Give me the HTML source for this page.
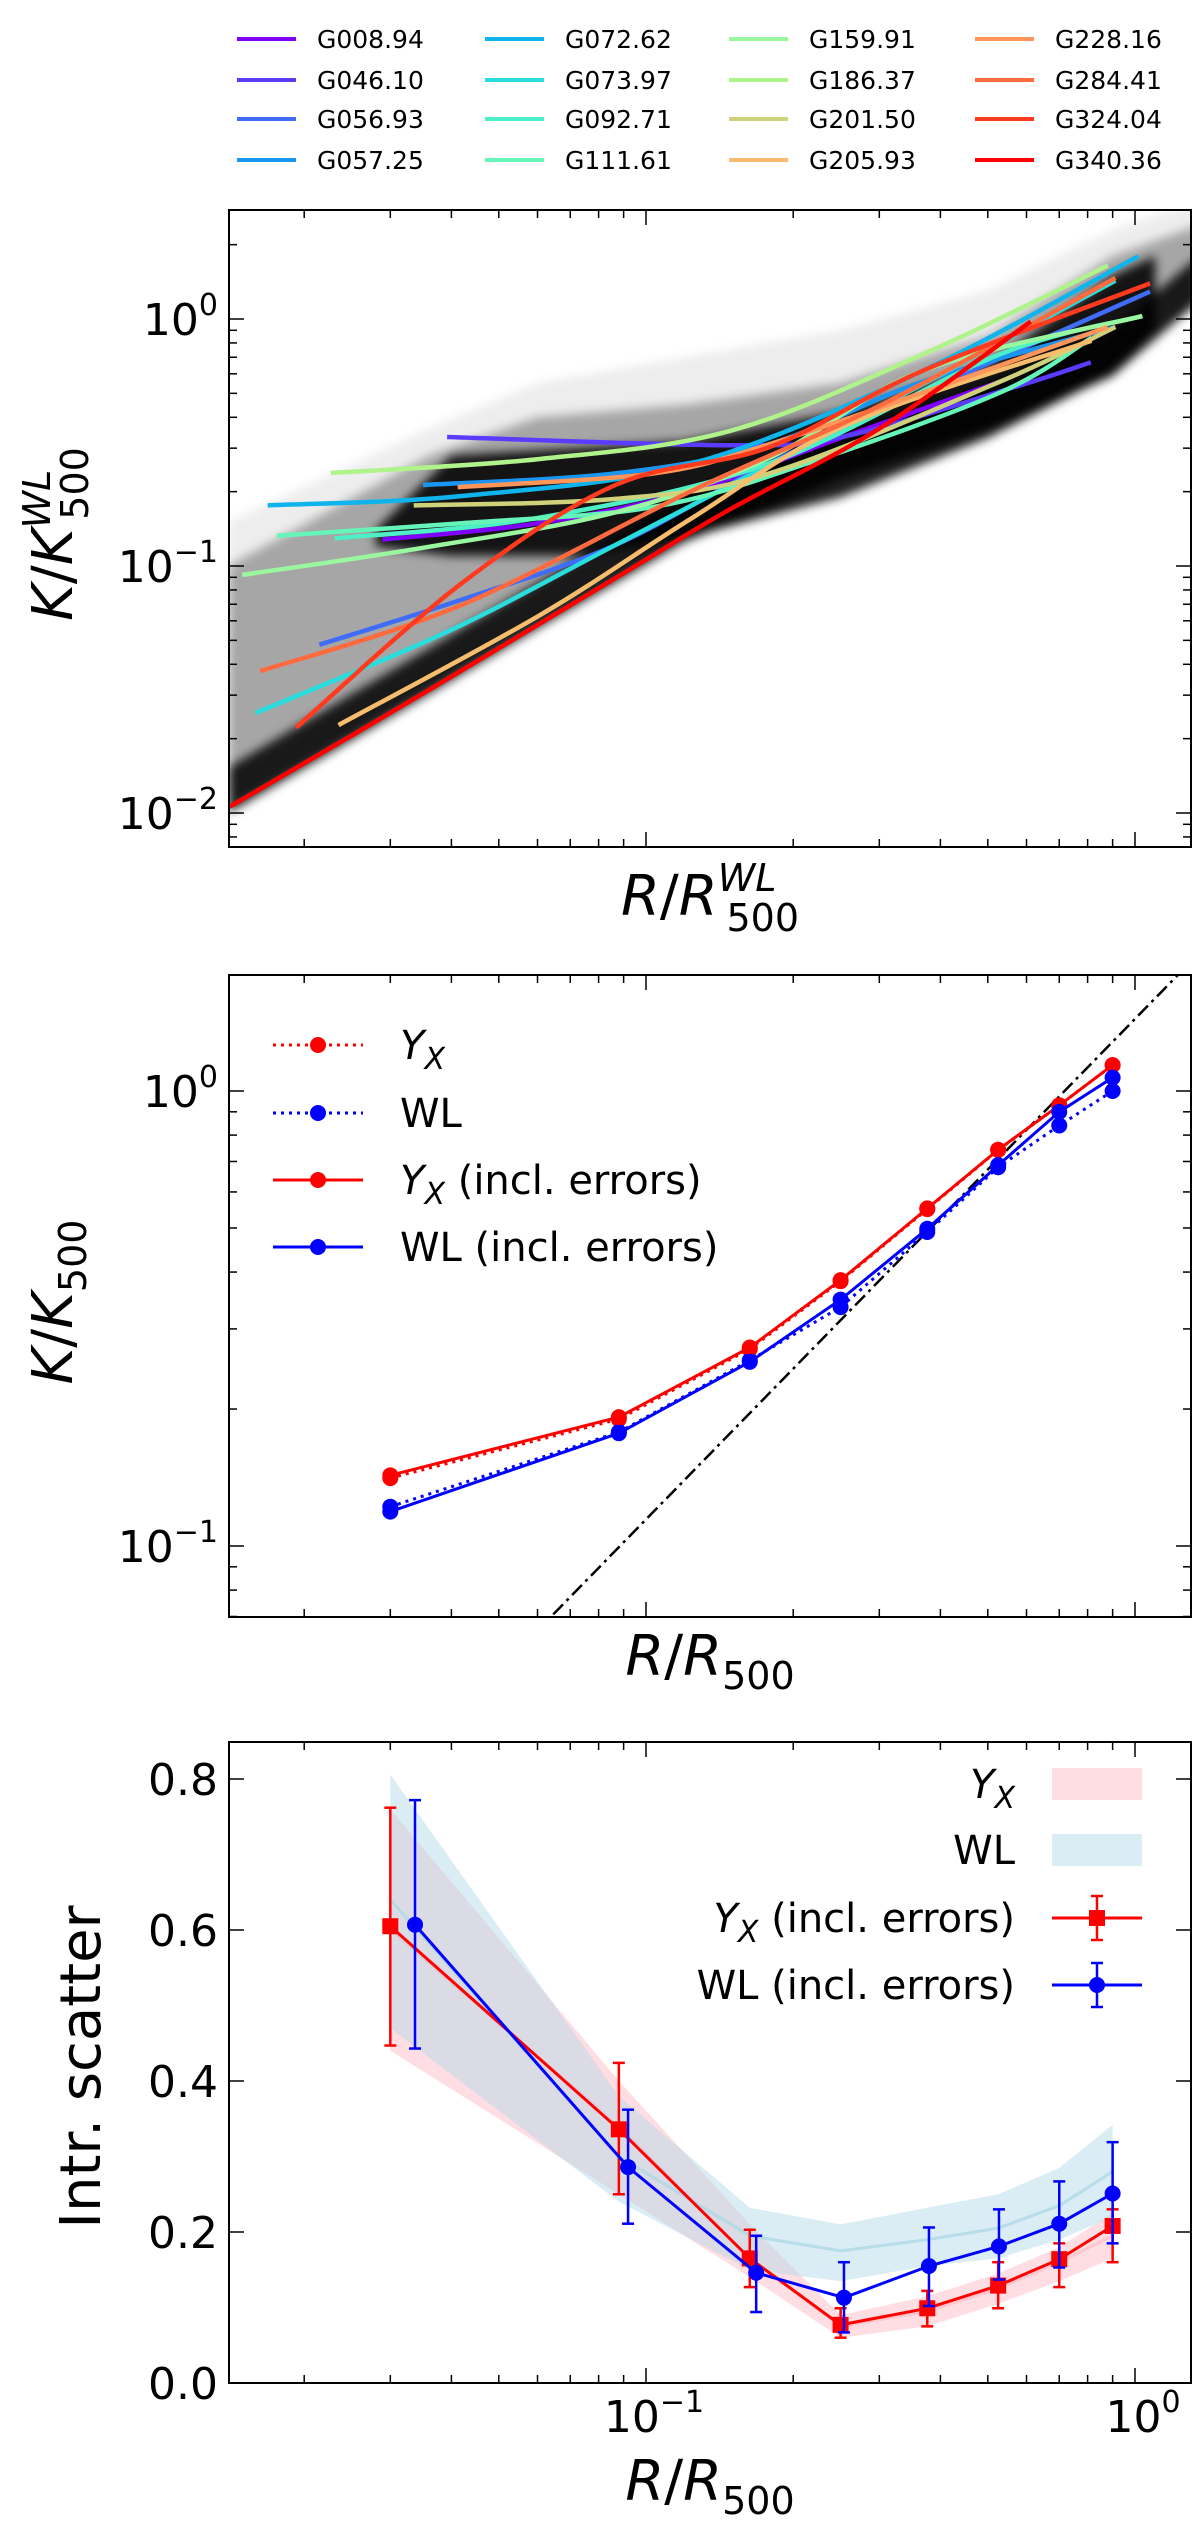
<!DOCTYPE html>
<html><head><meta charset="utf-8"><style>
html,body{margin:0;padding:0;background:#fff}
svg{display:block;font-family:"DejaVu Sans","Liberation Sans",sans-serif}
</style></head><body>
<svg id="fig" width="1200" height="2529" viewBox="0 0 1200 2529" xmlns="http://www.w3.org/2000/svg">
<defs>
<clipPath id="cTop"><rect x="229" y="210" width="962" height="637"/></clipPath>
<clipPath id="cMid"><rect x="229" y="975" width="962" height="642"/></clipPath>
<clipPath id="cBot"><rect x="229" y="1742" width="962" height="641"/></clipPath>
<filter id="blur"><feGaussianBlur stdDeviation="5"/></filter>
</defs>
<g id="top"></g>
<g id="mid"></g>
<g id="bot"></g>
</svg>
<script>
// ---------- TOP PANEL DATA ----------
const clusterNames = ["G008.94","G046.10","G056.93","G057.25","G072.62","G073.97","G092.71","G111.61","G159.91","G186.37","G201.50","G205.93","G228.16","G284.41","G324.04","G340.36"];
const clusterColors = ["#8000ff","#5a3cff","#3f6cf8","#1a96f2","#10b4ec","#2adddd","#4df0c6","#66f5b8","#9af7a0","#b0f38a","#cfd27a","#f8bd6c","#ff9558","#ff6a3f","#ff3a1f","#ff0000"];
const clusterR = [
 [0.0289,0.0603,0.1244,0.2566,0.53],
 [0.0392,0.1527,0.2566,0.569,0.812],
 [0.02148,0.042,0.0866,0.1787,0.3687,1.073],
 [0.035,0.0866,0.1787,0.3687,0.912],
 [0.01684,0.042,0.1244,0.3687,1.016],
 [0.0159,0.039,0.0866,0.2566,0.912],
 [0.02308,0.0603,0.1787,0.53,1.035],
 [0.01759,0.042,0.1038,0.2141,0.53,0.815],
 [0.01494,0.035,0.0866,0.1787,0.3687,1.035],
 [0.02267,0.0603,0.149,0.3687,0.88],
 [0.0335,0.0866,0.1787,0.53,0.912],
 [0.0235,0.0603,0.1244,0.2566,0.815],
 [0.0412,0.1038,0.1787,0.3687,0.88],
 [0.01625,0.042,0.1244,0.3076,0.912],
 [0.01926,0.042,0.0866,0.1787,0.3687,1.073],
 [0.01408,0.036,0.0923,0.148,0.3,0.612]
];
const clusterK = [
 [0.128,0.149,0.2021,0.336,0.558],
 [0.333,0.308,0.336,0.531,0.667],
 [0.048,0.0731,0.1216,0.2605,0.504,1.291],
 [0.2127,0.237,0.311,0.558,0.928],
 [0.176,0.192,0.2605,0.618,1.796],
 [0.0254,0.0539,0.1216,0.372,1.429],
 [0.1294,0.1567,0.2605,0.72,1.027],
 [0.1326,0.149,0.1735,0.2605,0.504,0.839],
 [0.092,0.1185,0.165,0.274,0.618,1.027],
 [0.238,0.271,0.353,0.72,1.647],
 [0.176,0.187,0.237,0.558,0.928],
 [0.0227,0.0628,0.1567,0.372,0.817],
 [0.2086,0.237,0.311,0.504,0.928],
 [0.0375,0.0696,0.2021,0.456,1.466],
 [0.0222,0.0852,0.2127,0.303,0.618,1.393],
 [0.0106,0.0315,0.0964,0.169,0.36,0.976]
];
// gray realisation envelopes
const bandR = [0.014,0.036,0.06,0.12,0.25,0.5,0.9,1.35];
const bandLow = [0.0102,0.031,0.057,0.128,0.23,0.36,0.6,1.2];
const bandFaintUp = [0.15,0.36,0.55,0.7,0.9,1.3,2.3,3.0];
const bandMidUp = [0.1,0.28,0.4,0.45,0.55,0.85,1.8,2.4];
const coreR = [0.028,0.04,0.07,0.12,0.25,0.5,0.9,1.1];
const coreLow = [0.12,0.11,0.11,0.13,0.19,0.33,0.6,0.9];
const coreUp = [0.14,0.28,0.3,0.32,0.42,0.65,1.5,1.8];
// ---------- MIDDLE PANEL DATA ----------
const profR = [0.030,0.088,0.163,0.25,0.376,0.525,0.70,0.90];
const kYx = [0.141,0.190,0.271,0.382,0.550,0.742,0.930,1.14];
const kWL = [0.122,0.178,0.256,0.335,0.490,0.680,0.840,1.00];
const kYxErr = [0.143,0.192,0.273,0.384,0.552,0.743,0.93,1.14];
const kWLErr = [0.119,0.177,0.254,0.348,0.498,0.687,0.90,1.07];
const refNorm = 1.44, refSlope = 1.1;
// ---------- BOTTOM PANEL DATA ----------
const scatR_Yx = [0.030,0.088,0.163,0.25,0.376,0.525,0.70,0.90];
const scatR_WL = [0.0337,0.0919,0.168,0.254,0.379,0.527,0.70,0.90];
const scatYx = [0.605,0.336,0.165,0.077,0.099,0.129,0.164,0.208];
const scatYxHi = [0.762,0.424,0.203,0.099,0.122,0.160,0.185,0.230];
const scatYxLo = [0.447,0.250,0.127,0.060,0.075,0.099,0.127,0.160];
const scatWL = [0.607,0.286,0.146,0.113,0.155,0.181,0.211,0.251];
const scatWLHi = [0.772,0.362,0.195,0.160,0.206,0.230,0.267,0.319];
const scatWLLo = [0.443,0.211,0.094,0.067,0.102,0.137,0.153,0.185];
const bandYxMid = [0.60,0.34,0.165,0.075,0.095,0.125,0.16,0.195];
const bandYxUp = [0.76,0.40,0.21,0.09,0.115,0.145,0.18,0.225];
const bandYxLo = [0.44,0.25,0.14,0.06,0.075,0.105,0.135,0.165];
const bandWLMid = [0.64,0.30,0.195,0.175,0.19,0.205,0.235,0.28];
const bandWLUp = [0.806,0.38,0.232,0.21,0.232,0.25,0.285,0.342];
const bandWLLo = [0.47,0.24,0.15,0.135,0.155,0.165,0.19,0.22];

const NS="http://www.w3.org/2000/svg";
function mk(tag,attrs,parent){const e=document.createElementNS(NS,tag);for(const k in attrs)e.setAttribute(k,attrs[k]);if(parent)parent.appendChild(e);return e;}
const L=Math.log10;
const X=r=>1135+489*L(r);
const yT=k=>319-247*L(k);
const yM=k=>1091-455*L(k);
const yB=v=>2383-755*v;
const PL=229,PR=1191;

function pathFrom(xs,ys,fx,fy){return xs.map((v,i)=>(i?'L':'M')+fx(v).toFixed(1)+','+fy(ys[i]).toFixed(1)).join('');}
function smoothFrom(xs,ys,fx,fy){
  const p=xs.map((v,i)=>[fx(v),fy(ys[i])]);
  let d='M'+p[0][0].toFixed(1)+','+p[0][1].toFixed(1);
  for(let i=0;i<p.length-1;i++){
    const p0=p[Math.max(0,i-1)],p1=p[i],p2=p[i+1],p3=p[Math.min(p.length-1,i+2)];
    const c1=[p1[0]+(p2[0]-p0[0])/6,p1[1]+(p2[1]-p0[1])/6];
    const c2=[p2[0]-(p3[0]-p1[0])/6,p2[1]-(p3[1]-p1[1])/6];
    d+='C'+c1.map(v=>v.toFixed(1)).join(',')+' '+c2.map(v=>v.toFixed(1)).join(',')+' '+p2[0].toFixed(1)+','+p2[1].toFixed(1);
  }
  return d;
}
function polyBand(xs,lo,hi,fx,fy){let d=pathFrom(xs,hi,fx,fy);for(let i=xs.length-1;i>=0;i--)d+='L'+fx(xs[i]).toFixed(1)+','+fy(lo[i]).toFixed(1);return d+'Z';}

function frame(g,top,bot){
  const r=mk('rect',{x:PL,y:top,width:PR-PL,height:bot-top,fill:'none',stroke:'#000','stroke-width':2},g);
  
  
}
function xticks(g,top,bot){
  const t=mk('g',{stroke:'#000','stroke-width':1.5},g);
  
  
  for(let e=-2;e<=0;e++)for(let m=1;m<10;m++){
    const v=m*Math.pow(10,e),x=X(v);if(x<PL||x>PR)continue;
    const len=m===1?15:8;
    mk('line',{x1:x,y1:bot,x2:x,y2:bot-len},t);mk('line',{x1:x,y1:top,x2:x,y2:top+len},t);
  }
}
function ylogticks(g,top,bot,fy){
  const t=mk('g',{stroke:'#000','stroke-width':1.5},g);
  
  
  for(let e=-3;e<=0;e++)for(let m=1;m<10;m++){
    const v=m*Math.pow(10,e),y=fy(v);if(y<top||y>bot)continue;
    const len=m===1?15:8;
    mk('line',{x1:PL,y1:y,x2:PL+len,y2:y},t);mk('line',{x1:PR,y1:y,x2:PR-len,y2:y},t);
  }
}
function powLabel(g,xr,y,exp,name){
  const t=mk('text',{x:xr,y:y,'text-anchor':'end','font-size':44,fill:'#000'},g);
  const a=mk('tspan',{},t);a.textContent='10';
  const b=mk('tspan',{dy:-20,'font-size':30},t);b.textContent=exp;
  
  
  return t;
}

// ===== TOP PANEL =====
(function(){
const g=document.getElementById('top');
const lg=mk('g',{},g);


const colX=[237,485,729,975], rowY=[39,80,119,160];
clusterNames.forEach((n,i)=>{
  const c=Math.floor(i/4),r=i%4;
  const e=mk('g',{},lg);
  
  
  mk('line',{x1:colX[c],y1:rowY[r],x2:colX[c]+59,y2:rowY[r],stroke:clusterColors[i],'stroke-width':4},e);
  const t=mk('text',{x:colX[c]+80,y:rowY[r]+9,'font-size':25,fill:'#000'},e);t.textContent=n;
});
const pg=mk('g',{'clip-path':'url(#cTop)'},g);
const gray=mk('g',{filter:'url(#blur)'},pg);


mk('path',{d:polyBand(bandR,bandLow,bandFaintUp,X,yT),fill:'#000',opacity:0.07},gray);
mk('path',{d:polyBand(bandR,bandLow,bandMidUp,X,yT),fill:'#000',opacity:0.3},gray);
mk('path',{d:polyBand(coreR,coreLow,coreUp,X,yT),fill:'#000',opacity:0.88},gray);
mk('path',{d:polyBand(bandR,bandLow.map(v=>v*0.98),bandLow.map(v=>v*1.5),X,yT),fill:'#000',opacity:0.85},gray);
clusterNames.forEach((n,i)=>{
  const p=mk('path',{d:smoothFrom(clusterR[i],clusterK[i],X,yT),fill:'none',stroke:clusterColors[i],'stroke-width':4.5,'stroke-linejoin':'round','stroke-linecap':'butt'},pg);
  
  
});
frame(g,210,847);xticks(g,210,847);ylogticks(g,210,847,yT);
powLabel(g,218,yT(1)+16,'0','y-tick-1e0');
powLabel(g,218,yT(0.1)+16,'−1','y-tick-1e-1');
powLabel(g,218,yT(0.01)+16,'−2','y-tick-1e-2');
const yl=mk('text',{transform:'translate(72,534) rotate(-90)','text-anchor':'middle','font-size':56,fill:'#000'},g);


yl.innerHTML='<tspan font-style="italic">K</tspan>/<tspan font-style="italic">K</tspan><tspan font-size="38" dy="-22" font-style="italic">WL</tspan><tspan font-size="38" dx="-50" dy="38">500</tspan>';
const xl=mk('text',{x:710,y:915,'text-anchor':'middle','font-size':56,fill:'#000'},g);


xl.innerHTML='<tspan font-style="italic">R</tspan>/<tspan font-style="italic">R</tspan><tspan font-size="38" dy="-24" font-style="italic">WL</tspan><tspan font-size="38" dx="-50" dy="40">500</tspan>';
})();

// ===== MIDDLE PANEL =====
(function(){
const g=document.getElementById('mid');
const pg=mk('g',{'clip-path':'url(#cMid)'},g);
const refK=[0.01,3].map(r=>refNorm*Math.pow(r,refSlope));
const ref=mk('path',{d:pathFrom([0.01,3],refK,X,yM),stroke:'#000','stroke-width':2.5,fill:'none','stroke-dasharray':'14,5,3,5'},pg);


function series(vals,color,dotted,name){
  const s=mk('g',{},pg);
  
  
  mk('path',{d:pathFrom(profR,vals,X,yM),stroke:color,'stroke-width':3,fill:'none','stroke-dasharray':dotted?'3,5':'none'},s);
  profR.forEach((r,i)=>mk('circle',{cx:X(r),cy:yM(vals[i]),r:8,fill:color},s));
}
series(kYx,'#ff0000',true,'yx-dotted-series');
series(kWL,'#0000ff',true,'wl-dotted-series');
series(kYxErr,'#ff0000',false,'yx-incl-errors-series');
series(kWLErr,'#0000ff',false,'wl-incl-errors-series');
frame(g,975,1617);xticks(g,975,1617);ylogticks(g,975,1617,yM);
powLabel(g,218,yM(1)+16,'0','y-tick-1e0');
powLabel(g,218,yM(0.1)+16,'−1','y-tick-1e-1');
const lg=mk('g',{},g);


const labs=[['#ff0000',true,'<tspan font-style="italic">Y</tspan><tspan font-style="italic" font-size="30" dy="10">X</tspan>'],
 ['#0000ff',true,'WL'],
 ['#ff0000',false,'<tspan font-style="italic">Y</tspan><tspan font-style="italic" font-size="30" dy="10">X</tspan><tspan dy="-10"> (incl. errors)</tspan>'],
 ['#0000ff',false,'WL (incl. errors)']];
const ly=[1045,1113,1180,1247];
labs.forEach((l,i)=>{
  const e=mk('g',{},lg);
  
  
  mk('line',{x1:273,y1:ly[i],x2:363,y2:ly[i],stroke:l[0],'stroke-width':3,'stroke-dasharray':l[1]?'3,5':'none'},e);
  mk('circle',{cx:318,cy:ly[i],r:8,fill:l[0]},e);
  const t=mk('text',{x:400,y:ly[i]+14,'font-size':40,fill:'#000'},e);t.innerHTML=l[2];
});
const yl=mk('text',{transform:'translate(72,1302) rotate(-90)','text-anchor':'middle','font-size':56,fill:'#000'},g);


yl.innerHTML='<tspan font-style="italic">K</tspan>/<tspan font-style="italic">K</tspan><tspan font-size="38" dy="14">500</tspan>';
const xl=mk('text',{x:710,y:1675,'text-anchor':'middle','font-size':56,fill:'#000'},g);


xl.innerHTML='<tspan font-style="italic">R</tspan>/<tspan font-style="italic">R</tspan><tspan font-size="38" dy="14">500</tspan>';
})();

// ===== BOTTOM PANEL =====
(function(){
const g=document.getElementById('bot');
const pg=mk('g',{'clip-path':'url(#cBot)'},g);
const b1=mk('path',{d:polyBand(scatR_Yx,bandYxLo,bandYxUp,X,yB),fill:'#ffb6c1',opacity:0.45},pg);


const b1m=mk('path',{d:pathFrom(scatR_Yx,bandYxMid,X,yB),fill:'none',stroke:'#ffb6c1','stroke-width':3,opacity:0.6},pg);


const b2=mk('path',{d:polyBand(scatR_Yx,bandWLLo,bandWLUp,X,yB),fill:'#add8e6',opacity:0.45},pg);


const b2m=mk('path',{d:pathFrom(scatR_Yx,bandWLMid,X,yB),fill:'none',stroke:'#add8e6','stroke-width':3,opacity:0.8},pg);


function errSeries(rs,v,hi,lo,color,square,name){
  const s=mk('g',{},pg);
  
  
  mk('path',{d:pathFrom(rs,v,X,yB),stroke:color,'stroke-width':3,fill:'none'},s);
  rs.forEach((r,i)=>{
    const x=X(r);
    mk('line',{x1:x,y1:yB(hi[i]),x2:x,y2:yB(lo[i]),stroke:color,'stroke-width':2.5},s);
    mk('line',{x1:x-6,y1:yB(hi[i]),x2:x+6,y2:yB(hi[i]),stroke:color,'stroke-width':2.5},s);
    mk('line',{x1:x-6,y1:yB(lo[i]),x2:x+6,y2:yB(lo[i]),stroke:color,'stroke-width':2.5},s);
    if(square)mk('rect',{x:x-8,y:yB(v[i])-8,width:16,height:16,fill:color},s);
    else mk('circle',{cx:x,cy:yB(v[i]),r:8,fill:color},s);
  });
}
errSeries(scatR_Yx,scatYx,scatYxHi,scatYxLo,'#ff0000',true,'yx-incl-errors-series');
errSeries(scatR_WL,scatWL,scatWLHi,scatWLLo,'#0000ff',false,'wl-incl-errors-series');
frame(g,1742,2383);xticks(g,1742,2383);
const yt=mk('g',{stroke:'#000','stroke-width':1.5},g);


[0,0.2,0.4,0.6,0.8].forEach(v=>{
  const y=yB(v);
  mk('line',{x1:PL,y1:y,x2:PL+15,y2:y},yt);mk('line',{x1:PR,y1:y,x2:PR-15,y2:y},yt);
  const t=mk('text',{x:218,y:y+16,'text-anchor':'end','font-size':44,fill:'#000',stroke:'none'},g);
  t.textContent=v.toFixed(1);
  
  
});
const t1=powLabel(g,0,2432,'−1','x-tick-1e-1');t1.setAttribute('text-anchor','middle');t1.setAttribute('x',X(0.1)+8);
const t0=powLabel(g,0,2432,'0','x-tick-1e0');t0.setAttribute('text-anchor','middle');t0.setAttribute('x',X(1)+8);
const lg=mk('g',{},g);


const ly=[1784,1850,1918,1985];
const labs=['<tspan font-style="italic">Y</tspan><tspan font-style="italic" font-size="30" dy="10">X</tspan>','WL',
 '<tspan font-style="italic">Y</tspan><tspan font-style="italic" font-size="30" dy="10">X</tspan><tspan dy="-10"> (incl. errors)</tspan>','WL (incl. errors)'];
labs.forEach((l,i)=>{
  const e=mk('g',{},lg);
  
  
  if(i<2){mk('rect',{x:1052,y:ly[i]-16,width:90,height:32,fill:i?'#add8e6':'#ffb6c1',opacity:0.45},e);}
  else{
    const c=i===2?'#ff0000':'#0000ff';
    mk('line',{x1:1052,y1:ly[i],x2:1142,y2:ly[i],stroke:c,'stroke-width':3},e);
    mk('line',{x1:1097,y1:ly[i]-22,x2:1097,y2:ly[i]+22,stroke:c,'stroke-width':2.5},e);
    mk('line',{x1:1091,y1:ly[i]-22,x2:1103,y2:ly[i]-22,stroke:c,'stroke-width':2.5},e);
    mk('line',{x1:1091,y1:ly[i]+22,x2:1103,y2:ly[i]+22,stroke:c,'stroke-width':2.5},e);
    if(i===2)mk('rect',{x:1089,y:ly[i]-8,width:16,height:16,fill:c},e);else mk('circle',{cx:1097,cy:ly[i],r:8,fill:c},e);
  }
  const t=mk('text',{x:1015,y:ly[i]+14,'text-anchor':'end','font-size':40,fill:'#000'},e);t.innerHTML=l;
});
const yl=mk('text',{transform:'translate(100,2067) rotate(-90)','text-anchor':'middle','font-size':56,fill:'#000'},g);
yl.textContent='Intr. scatter';


const xl=mk('text',{x:710,y:2500,'text-anchor':'middle','font-size':56,fill:'#000'},g);


xl.innerHTML='<tspan font-style="italic">R</tspan>/<tspan font-style="italic">R</tspan><tspan font-size="38" dy="14">500</tspan>';
})();
</script>
</body></html>
